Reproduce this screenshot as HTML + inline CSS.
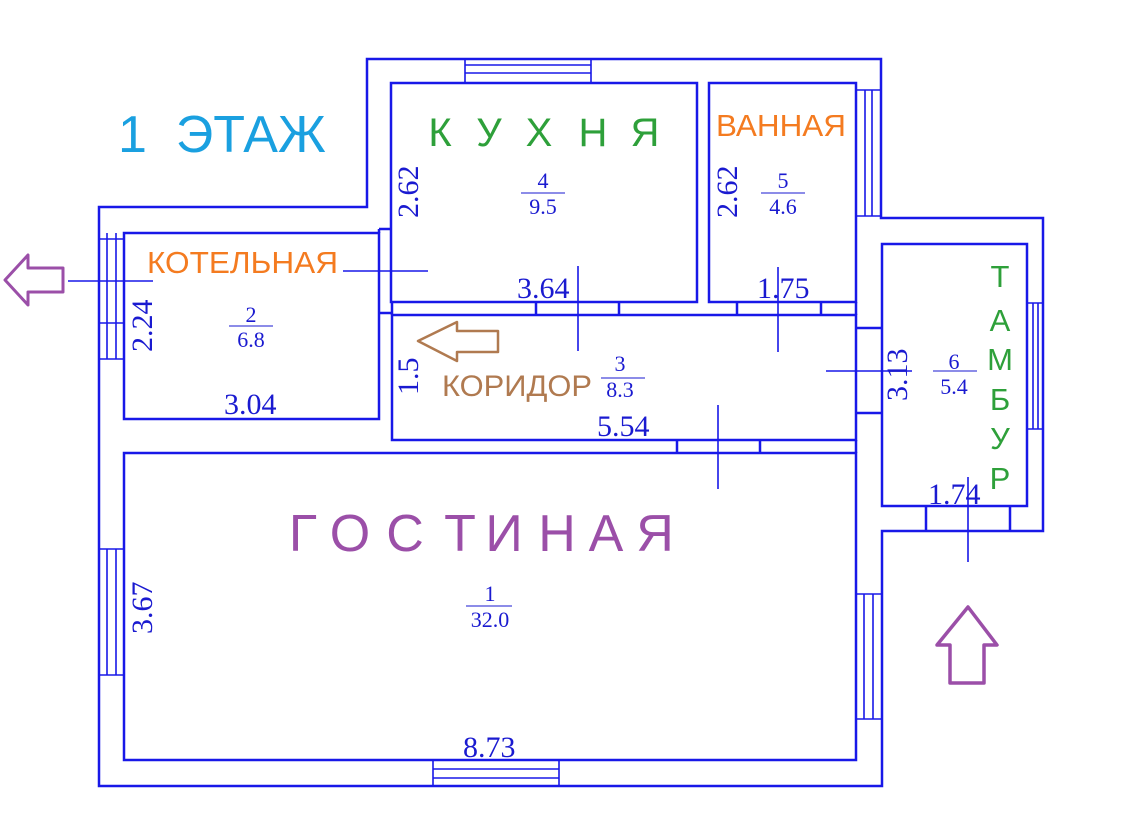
<!DOCTYPE html>
<html><head><meta charset="utf-8"><style>
html,body{margin:0;padding:0;background:#fff;}
svg{display:block;}
.w{stroke:#1818e8;stroke-width:2.5;fill:none;}
.t{stroke:#1818e8;stroke-width:1.6;fill:none;}
.d{font-family:"Liberation Serif",serif;font-size:30px;fill:#1a1ad0;}
.f{font-family:"Liberation Serif",serif;font-size:22px;fill:#1a1ad0;text-anchor:middle;}
.s{font-family:"Liberation Sans",sans-serif;}
</style></head><body>
<svg width="1147" height="831" viewBox="0 0 1147 831" xmlns="http://www.w3.org/2000/svg">
<path class="w" d="M99,207 H367 V59 H881 V218 H1043 V531 H882 V786 H99 Z"/>
<rect class="w" x="391" y="83" width="306" height="219"/>
<rect class="w" x="709" y="83" width="147" height="219"/>
<rect class="w" x="124" y="233" width="255" height="186"/>
<rect class="w" x="392" y="315" width="464" height="125"/>
<rect class="w" x="124" y="453" width="732" height="307"/>
<rect class="w" x="882" y="244" width="145" height="262"/>
<path class="w" d="M379,229 H392 M379,313 H392 M379,229 V233 M392,302 V315
M536,302 V315 M619,302 V315 M737,302 V315 M821,302 V315
M677,440 V453 M760,440 V453 M856,328 H882 M856,413 H882
M926,506 V531 M1010,506 V531 M856,302 V315 M856,440 V453"/>
<path class="t" d="M465,59 V83 M591,59 V83 M465,65 H591 M465,73 H591"/>
<path class="t" d="M856,90 H881 M856,216 H881 M865,90 V216 M872,90 V216"/>
<path class="t" d="M99,239 H124 M99,359 H124 M99,323 H124 M107,233 V359 M116,233 V359"/>
<path class="t" d="M99,549 H124 M99,675 H124 M107,549 V675 M116,549 V675"/>
<path class="t" d="M433,760 V786 M559,760 V786 M433,769 H559 M433,778 H559"/>
<path class="t" d="M856,594 H882 M856,719 H882 M864,594 V719 M873,594 V719"/>
<path class="t" d="M1027,303 H1043 M1027,429 H1043 M1033,303 V429 M1038,303 V429"/>
<path class="t" d="M343,271 H428 M68,281 H153 M578,266 V351 M778,267 V352 M826,371 H912 M718,405 V489 M968,477 V562"/>
<path d="M5,280 L28,255 V268 H63 V292 H28 V305 Z" fill="none" stroke="#9b4fa8" stroke-width="3" stroke-linejoin="round"/>
<path d="M418,341 L457,322 V331 H498 V352 H457 V361 Z" fill="none" stroke="#b07a50" stroke-width="2.5" stroke-linejoin="round"/>
<path d="M968,607 L997,645 H984 V683 H950 V645 H937 Z" fill="none" stroke="#9b4fa8" stroke-width="3.5" stroke-linejoin="round"/>
<text class="s" x="118" y="152" font-size="52" fill="#1aa0e0">1&#160;&#160;ЭТАЖ</text>
<g class="s" font-size="40" fill="#2ea03a" text-anchor="middle">
<text x="440" y="146">К</text><text x="489" y="146">У</text><text x="539" y="146">Х</text><text x="593" y="146">Н</text><text x="645" y="146">Я</text>
</g>
<text class="s" x="716" y="136" font-size="31" fill="#f47b20" textLength="130" lengthAdjust="spacingAndGlyphs">ВАННАЯ</text>
<text class="s" x="147" y="273" font-size="31" fill="#f47b20" textLength="191" lengthAdjust="spacingAndGlyphs">КОТЕЛЬНАЯ</text>
<text class="s" x="442" y="396" font-size="30" fill="#b07a50" textLength="150" lengthAdjust="spacingAndGlyphs">КОРИДОР</text>
<g class="s" font-size="52" fill="#9b4fa8" text-anchor="middle">
<text x="303" y="551">Г</text><text x="350" y="551">О</text><text x="405" y="551">С</text><text x="460" y="551">Т</text><text x="504" y="551">И</text><text x="557" y="551">Н</text><text x="606" y="551">А</text><text x="655" y="551">Я</text>
</g>
<g class="s" font-size="31" fill="#2ea03a" text-anchor="middle">
<text x="1000" y="287">Т</text><text x="1000" y="331">А</text><text x="1000" y="370">М</text>
<text x="1000" y="410">Б</text><text x="1000" y="449">У</text><text x="1000" y="489">Р</text>
</g>
<text class="d" x="517" y="298">3.64</text>
<text class="d" x="757" y="298">1.75</text>
<text class="d" x="224" y="414">3.04</text>
<text class="d" x="597" y="436">5.54</text>
<text class="d" x="463" y="757">8.73</text>
<text class="d" x="928" y="504">1.74</text>
<text class="d" transform="translate(418,218) rotate(-90)">2.62</text>
<text class="d" transform="translate(737,218) rotate(-90)">2.62</text>
<text class="d" transform="translate(152,352) rotate(-90)">2.24</text>
<text class="d" transform="translate(418,395) rotate(-90)">1.5</text>
<text class="d" transform="translate(152,634) rotate(-90)">3.67</text>
<text class="d" transform="translate(907,401) rotate(-90)">3.13</text>
<g class="f">
<text x="543" y="188">4</text><text x="543" y="214">9.5</text>
<text x="783" y="188">5</text><text x="783" y="214">4.6</text>
<text x="251" y="322">2</text><text x="251" y="347">6.8</text>
<text x="620" y="371">3</text><text x="620" y="397">8.3</text>
<text x="490" y="601">1</text><text x="490" y="627">32.0</text>
<text x="954" y="369">6</text><text x="954" y="394">5.4</text>
</g>
<path stroke="#1a1ad0" stroke-width="1" d="M521,193 H565 M761,193 H805 M229,326 H273 M601,378 H645 M466,606 H512 M933,371 H977"/>
</svg>
</body></html>
